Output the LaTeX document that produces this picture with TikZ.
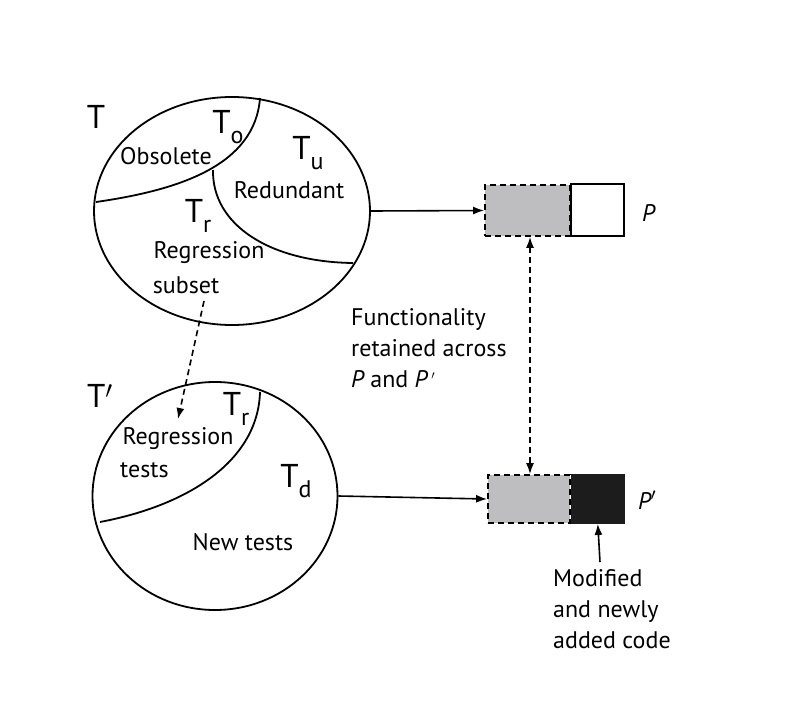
\documentclass[tikz,border=0pt]{standalone}
\usepackage{fontspec}
\setmainfont{PT Sans}
\usetikzlibrary{shapes.geometric,arrows.meta}
\definecolor{boxgray}{RGB}{190,190,193}
\definecolor{boxblack}{RGB}{28,28,28}
\tikzset{
  setline/.style={line width=1.8pt},
  lbl/.style={font=\fontsize{24}{31}\selectfont, inner sep=0pt},
  biglbl/.style={font=\fontsize{33}{36}\selectfont, inner sep=0pt},
  conn/.style={line width=1.6pt, -{Latex[length=11pt,width=8pt]}},
  dconn/.style={line width=1.6pt, dashed, dash pattern=on 6pt off 4pt, -{Latex[length=11pt,width=8pt]}},
}
\newcommand{\Tsub}[1]{T\raisebox{-0.3em}{\fontsize{24}{26}\selectfont #1}}
\begin{document}
\begin{tikzpicture}[x=1pt,y=-1pt]
\useasboundingbox[fill=white] (0,0) rectangle (796,720);
% top set T
\node[ellipse, draw, setline, minimum width=276pt, minimum height=228pt, inner sep=0pt] (T) at (232,211) {};
\draw[setline] (96,202) .. controls (180,190) and (255,165) .. (260,98);
\draw[setline] (213,170) .. controls (212,225) and (270,262) .. (353,263);
\node[biglbl] (Tlab) at (96,117) {T};
\node[biglbl] (To) at (228,127) {\Tsub{o}};
\node[lbl] (obs) at (166,156) {Obsolete};
\node[biglbl] (Tu) at (308,153) {\Tsub{u}};
\node[lbl] (red) at (289,190) {Redundant};
\node[biglbl] (Tr) at (198,216) {\Tsub{r}};
\node[lbl] (reg) at (209,253) {Regression};
\node[lbl] (sub) at (186,285) {subset};
% bottom set T'
\node[ellipse, draw, setline, minimum width=245pt, minimum height=228pt, inner sep=0pt] (Tp) at (215,496) {};
\draw[setline] (100,522) .. controls (190,505) and (258,460) .. (260,392);
\node[biglbl] (Tplab) at (100,396) {T$'$};
\node[biglbl] (Tr2) at (236,409) {\Tsub{r}};
\node[lbl] (reg2) at (178,439) {Regression};
\node[lbl, anchor=west] (tests) at (120,470) {tests};
\node[biglbl] (Td) at (296,481) {\Tsub{d}};
\node[lbl] (new) at (243,542) {New tests};
% program boxes
\node[draw, setline, dashed, dash pattern=on 6pt off 4pt, fill=boxgray, minimum width=85pt, minimum height=51pt, inner sep=0pt] (Pg) at (527.5,210.5) {};
\draw[setline] (Pg.north east) rectangle (624,236);
\draw[setline, dashed, dash pattern=on 6pt off 4pt] (Pg.north east) -- (Pg.south east);
\node[draw, setline, dashed, dash pattern=on 6pt off 4pt, fill=boxgray, minimum width=82pt, minimum height=48pt, inner sep=0pt] (Ppg) at (529,499) {};
\node[draw=boxblack, setline, fill=boxblack, minimum width=52pt, minimum height=48pt, inner sep=0pt, anchor=west] (Ppb) at (Ppg.east) {};
\node[lbl, anchor=west] (P) at (642,213) {\itshape P};
\node[lbl, anchor=west] (Pp) at (638,500) {\itshape P$'$};
% connectors
\draw[conn] (T.east) -- (Pg.west);
\draw[conn] (Tp.east) -- (Ppg.west);
\coordinate (dstart) at (204,301);
\coordinate (dend) at (178,419);
\draw[dconn] (dstart) -- (dend);
\draw[dconn, {Latex[length=11pt,width=8pt]}-{Latex[length=11pt,width=8pt]}] ([xshift=2.5pt]Pg.south) -- ([xshift=1pt]Ppg.north);
\coordinate (mstart) at (600,562);
\draw[conn] (mstart) -- (Ppb.south);
% text
\node[lbl, anchor=base west] (func1) at (351,325) {Functionality};
\node[lbl, anchor=base west] (func2) at (351,356) {retained across};
\node[lbl, anchor=base west] (func3) at (351,387) {{\itshape P} and {\itshape P\,\raisebox{0.05em}{\fontsize{18}{20}\selectfont$'$}}};
\node[lbl, anchor=base west] (mod1) at (553,586) {Modified};
\node[lbl, anchor=base west] (mod2) at (553,617) {and newly};
\node[lbl, anchor=base west] (mod3) at (553,648) {added code};
\end{tikzpicture}
\end{document}
